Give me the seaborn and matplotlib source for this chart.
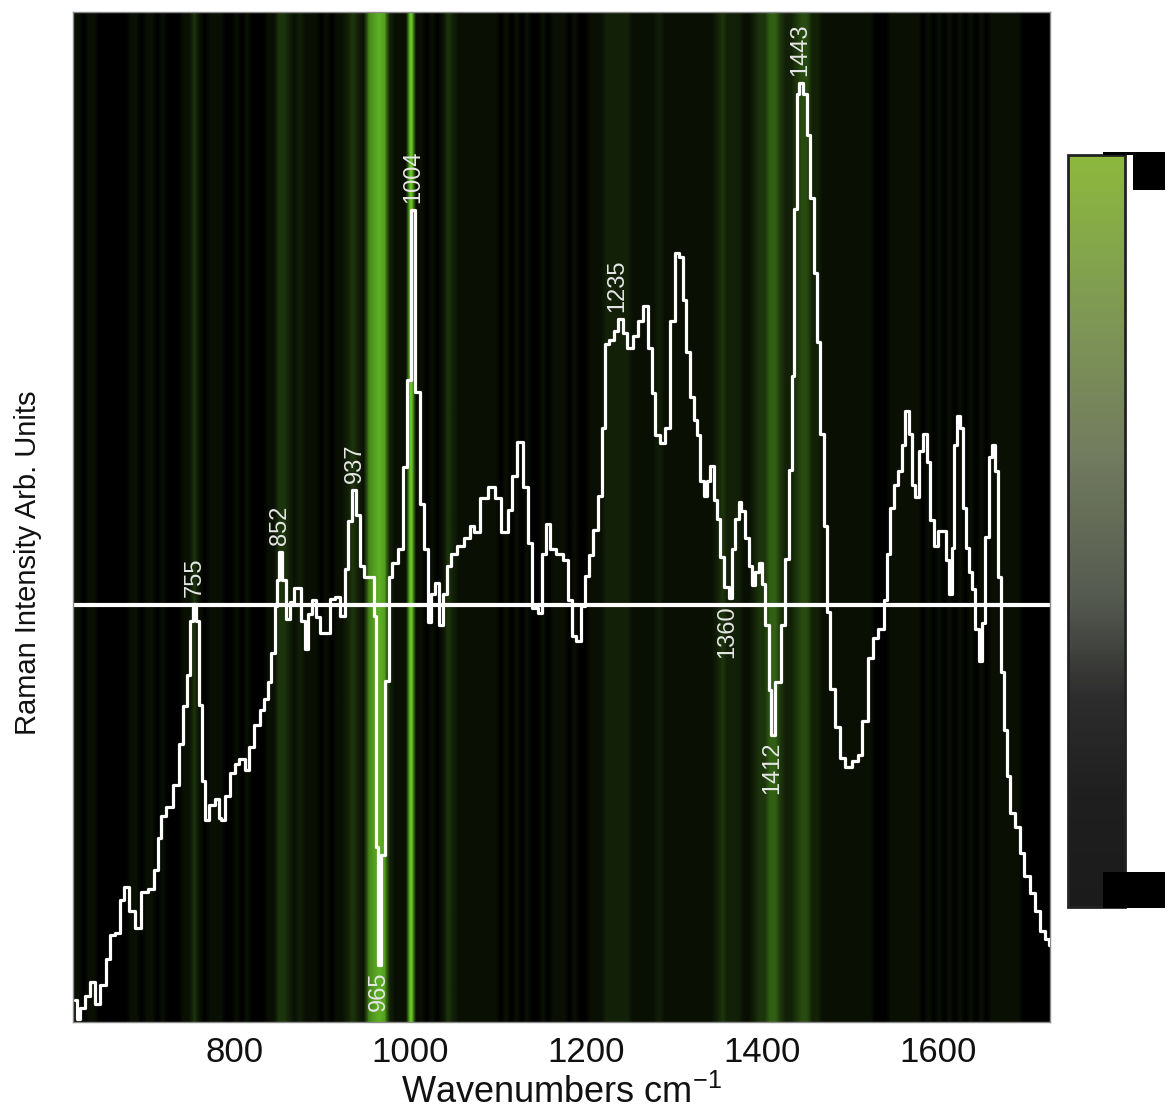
import numpy as np
import matplotlib
matplotlib.use('Agg')
import matplotlib.pyplot as plt
import seaborn as sns
from matplotlib.colors import LinearSegmentedColormap
from matplotlib.colorbar import ColorbarBase
from matplotlib.patches import Rectangle

# spectrum (arbitrary units, 0 = the white baseline)
wavenumber = [619, 623, 628, 633, 640, 645, 651, 657, 661, 668,
              673, 678, 684, 691, 697, 707, 712, 716, 719, 727,
              735, 739, 744, 748, 752, 755, 759, 762, 766, 769,
              775, 781, 784, 787, 792, 798, 803, 809, 815, 820,
              826, 832, 837, 841, 844, 848, 850, 852, 858, 861,
              866, 870, 875, 878, 883, 886, 891, 895, 900, 906,
              911, 918, 923, 928, 932, 937, 941, 945, 951, 957,
              960, 962, 965, 970, 974, 977, 983, 989, 994, 999,
              1004, 1008, 1014, 1018, 1022, 1026, 1031, 1034, 1040, 1043,
              1049, 1057, 1065, 1070, 1076, 1083, 1093, 1099, 1108, 1114,
              1118, 1125, 1131, 1136, 1142, 1148, 1151, 1157, 1162, 1170,
              1177, 1182, 1186, 1191, 1197, 1201, 1205, 1210, 1216, 1219,
              1224, 1229, 1234, 1239, 1244, 1250, 1256, 1261, 1268, 1273,
              1276, 1281, 1287, 1293, 1298, 1303, 1307, 1312, 1316, 1320,
              1324, 1327, 1332, 1335, 1339, 1343, 1347, 1350, 1354, 1360,
              1364, 1367, 1372, 1375, 1378, 1383, 1386, 1390, 1394, 1398,
              1401, 1406, 1409, 1412, 1418, 1424, 1428, 1432, 1435, 1438,
              1441, 1443, 1449, 1452, 1457, 1460, 1464, 1468, 1472, 1475,
              1480, 1485, 1491, 1498, 1506, 1511, 1517, 1523, 1528, 1536,
              1540, 1543, 1548, 1551, 1557, 1560, 1565, 1568, 1572, 1576,
              1580, 1585, 1589, 1593, 1597, 1602, 1607, 1610, 1614, 1617,
              1620, 1623, 1627, 1630, 1633, 1636, 1640, 1644, 1648, 1651,
              1656, 1659, 1663, 1667, 1669, 1673, 1676, 1680, 1684, 1690,
              1695, 1701, 1707, 1713, 1718, 1724, 1727]
intensity = [-395, -414, -403, -391, -377, -399, -380, -354, -330, -328,
             -295, -282, -306, -323, -287, -284, -265, -233, -211, -202,
             -180, -139, -101, -70, -16, 1, -16, -100, -176, -215,
             -200, -194, -213, -215, -191, -168, -159, -154, -165, -142,
             -120, -105, -94, -77, -48, -1, 25, 53, 25, -14,
             3, 17, 17, -16, -44, -9, 5, -12, -28, -28,
             6, 8, -11, 36, 84, 115, 90, 39, 28, 28,
             -11, -242, -360, -250, -76, 28, 42, 56, 138, 225,
             395, 213, 101, 56, -17, 11, 22, -20, 11, 39,
             51, 59, 67, 79, 73, 107, 118, 107, 73, 95,
             129, 163, 118, 62, -3, -8, 51, 81, 56, 51,
             45, 5, -31, -36, -1, 29, 50, 75, 109, 177,
             261, 265, 274, 286, 272, 257, 269, 284, 299, 257,
             212, 170, 162, 177, 284, 352, 348, 305, 253, 208,
             185, 170, 124, 109, 124, 139, 105, 86, 48, 18,
             7, 56, 86, 103, 94, 67, 39, 20, 33, 42,
             21, -20, -85, -130, -77, -20, 46, 135, 229, 396,
             511, 522, 511, 470, 407, 332, 263, 171, 79, -7,
             -84, -122, -153, -162, -156, -150, -116, -53, -33, -24,
             5, 51, 97, 120, 134, 160, 194, 171, 120, 108,
             154, 171, 143, 85, 59, 74, 74, 45, 11, 57,
             160, 189, 177, 97, 57, 33, 16, -24, -56, -18,
             68, 148, 160, 134, 28, -67, -125, -171, -208, -222,
             -248, -271, -288, -306, -326, -334, -340]

# weight of each 6 cm-1 band behind the spectrum (0 = black, 10 = brightest green)
band_wn = list(range(617, 1728, 6))
band_weight = [1, 1, 0, 1, 1, 0, 0, 0, 0, 0,
               0, 1, 1, 0, 1, 1, 0, 1, 0, 0,
               0, 1, 1, 3, 1, 0, 1, 1, 1, 0,
               0, 1, 0, 1, 0, 0, 0, 1, 1, 3,
               3, 2, 1, 2, 1, 1, 1, 0, 1, 0,
               1, 1, 2, 3, 2, 1, 6, 7, 8, 7,
               2, 1, 1, 1, 10, 1, 1, 0, 1, 0,
               1, 3, 2, 1, 1, 1, 1, 1, 1, 1,
               1, 0, 1, 0, 1, 0, 1, 0, 0, 1,
               0, 1, 1, 1, 0, 1, 0, 0, 1, 1,
               1, 2, 2, 2, 2, 2, 1, 1, 1, 1,
               1, 2, 1, 1, 1, 1, 1, 1, 1, 1,
               1, 1, 2, 3, 2, 2, 2, 1, 1, 2,
               3, 3, 5, 5, 3, 2, 2, 3, 4, 4,
               2, 2, 1, 1, 1, 1, 1, 1, 1, 1,
               1, 1, 0, 0, 0, 1, 1, 1, 1, 1,
               1, 0, 1, 0, 1, 0, 1, 0, 1, 0,
               1, 0, 1, 0, 1, 1, 1, 1, 1, 1,
               0, 0, 0, 0, 0, 0]

peak_labels = [755, 852, 937, 965, 1004, 1235, 1360, 1412, 1443]
peak_side = ['up', 'up', 'up', 'down', 'up', 'up', 'down', 'down', 'up']

band_cmap = LinearSegmentedColormap.from_list(
    'bands', ['#000000', '#0a1104', '#122008', '#1d350c', '#284a10', '#316014',
              '#438318', '#549e20', '#5eb025', '#66c02a', '#6ccb2e'])
cbar_cmap = LinearSegmentedColormap.from_list(
    'cbar', [(0.0, '#1b1b1b'), (0.14, '#1e1e1e'), (0.28, '#2d2d2d'),
             (0.41, '#555a50'), (0.61, '#737d5f'), (0.81, '#7f9b52'),
             (0.94, '#88b043'), (1.0, '#8cb83e')])


def main():
    sns.set_theme(style='white')
    plt.rcParams['font.family'] = ['Liberation Sans', 'DejaVu Sans']
    plt.rcParams['mathtext.fontset'] = 'custom'
    plt.rcParams['mathtext.rm'] = 'Liberation Sans'

    fig = plt.figure(figsize=(11.7, 11.12), dpi=100)
    ax = fig.add_axes([0.0624, 0.081, 0.835, 0.908])

    w = np.array(band_wn)
    half = (w[1] - w[0]) / 2
    ylo, yhi = -417, 593
    ax.imshow(np.array(band_weight)[None, :], extent=(w[0] - half, w[-1] + half, ylo, yhi),
              aspect='auto', cmap=band_cmap, vmin=0, vmax=10,
              interpolation='bilinear', origin='lower', zorder=0)

    ax.axhline(0, color='white', lw=3, zorder=2)
    sns.lineplot(x=wavenumber, y=intensity, sort=False, estimator=None, color='white',
                 lw=2.3, drawstyle='steps-mid', ax=ax, zorder=3)

    wn = np.array(wavenumber)
    inten = np.array(intensity)
    for lab, side in zip(peak_labels, peak_side):
        near = inten[np.abs(wn - lab) <= 4]
        if side == 'up':
            ax.annotate(str(lab), (lab, near.max()), xytext=(0, 5), textcoords='offset points',
                        rotation=90, ha='center', va='bottom', color='#e6e6e6', fontsize=17, zorder=4)
        else:
            ax.annotate(str(lab), (lab, near.min()), xytext=(0, -5), textcoords='offset points',
                        rotation=90, ha='center', va='top', color='#e6e6e6', fontsize=17, zorder=4)

    ax.set_xlim(617, 1727)
    ax.set_ylim(ylo, yhi)
    ax.set_xticks([800, 1000, 1200, 1400, 1600])
    ax.set_yticks([])
    ax.tick_params(axis='x', length=0, pad=10, labelsize=25, colors='#111111')
    ax.set_xlabel('Wavenumbers cm$^{-1}$', fontsize=26, labelpad=4, color='#111111')
    ax.set_ylabel('Raman Intensity Arb. Units', fontsize=21, color='#111111')
    ax.yaxis.set_label_coords(-0.032, 0.455)
    for s in ax.spines.values():
        s.set_color('#8a8a8a')
        s.set_linewidth(1)

    cax = fig.add_axes([0.9128, 0.1844, 0.0487, 0.676])
    cb = ColorbarBase(cax, cmap=cbar_cmap, orientation='vertical')
    cb.set_ticks([])
    cb.outline.set_linewidth(2)
    cb.outline.set_edgecolor('#222222')

    # the dark tabs beside the colour bar
    for x0, y0, wd, ht in [(0.968, 0.829, 0.0274, 0.0342), (0.9427, 0.829 + 0.0315, 0.053, 0.003),
                           (0.9427, 0.1835, 0.053, 0.0324)]:
        fig.add_artist(Rectangle((x0, y0), wd, ht, transform=fig.transFigure,
                                 facecolor='black', edgecolor='none', zorder=10))

    fig.savefig('out.png', dpi=100, facecolor='white')
    plt.close(fig)


if __name__ == '__main__':
    main()
